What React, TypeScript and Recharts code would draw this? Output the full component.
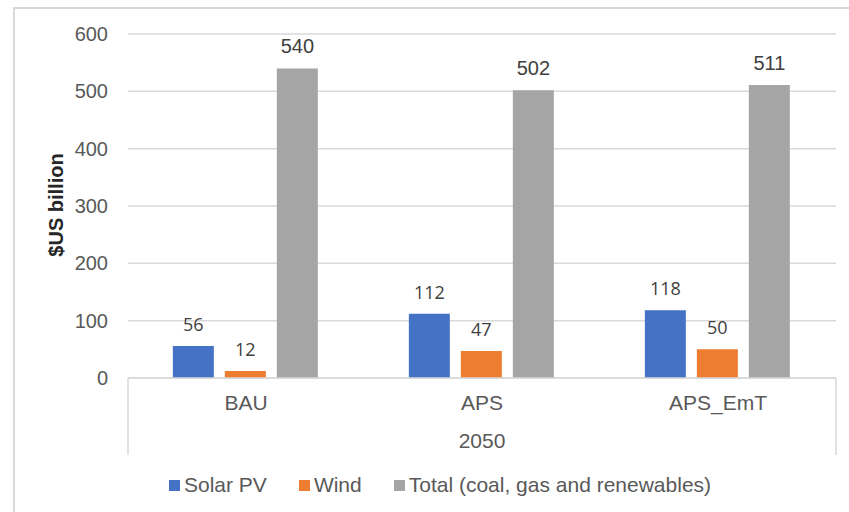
import React from 'react';
import { BarChart, Bar, XAxis, YAxis, CartesianGrid, Legend, LabelList } from 'recharts';

const categories = ['BAU', 'APS', 'APS_EmT'];
const solarPV = [56, 112, 118];
const wind = [12, 47, 50];
const total = [540, 502, 511];
const yTicks = [0, 100, 200, 300, 400, 500, 600];
const outerLabel = '2050';
const seriesNames = ['Solar PV', 'Wind', 'Total (coal, gas and renewables)'];
const colors = ['#4472C4', '#ED7D31', '#A5A5A5'];

const data = categories.map((c, i) => ({
  category: c,
  solar: solarPV[i],
  wind: wind[i],
  total: total[i],
}));

const FONT = '"Liberation Sans", Arial, sans-serif';
const GRID = '#d9d9d9';

const CategoryTick = (props: any) => {
  const { x, y, payload, index, visibleTicksCount } = props;
  const half = payload && typeof payload.offset === 'number' && payload.offset > 0 ? payload.offset : 118;
  const count = visibleTicksCount || categories.length;
  const left = x - half;
  const right = left + 2 * half * count;
  return (
    <g>
      <text x={x} y={y + 32} textAnchor="middle" fill="#595959" fontSize={21} fontFamily={FONT}>
        {payload.value}
      </text>
      {index === 0 && (
        <g>
          <line x1={left} y1={y} x2={left} y2={y + 77} stroke={GRID} strokeWidth={1.5} />
          <line x1={right} y1={y} x2={right} y2={y + 77} stroke={GRID} strokeWidth={1.5} />
          <text x={(left + right) / 2} y={y + 70} textAnchor="middle" fill="#595959" fontSize={21} fontFamily={FONT}>
            {outerLabel}
          </text>
        </g>
      )}
    </g>
  );
};

const YTitle = (props: any) => {
  const vb = props.viewBox || { x: 0, y: 34, width: 128, height: 344 };
  const cx = vb.x + 56;
  const cy = vb.y + vb.height / 2 - 1;
  return (
    <text
      x={cx}
      y={cy}
      transform={`rotate(-90, ${cx}, ${cy})`}
      textAnchor="middle"
      dominantBaseline="central"
      fill="#262626"
      fontSize={20}
      fontWeight="bold"
      fontFamily={FONT}
    >
      $US billion
    </text>
  );
};

const LegendContent = (props: any) => {
  const payload = [...(props.payload || [])].sort(
    (a: any, b: any) => seriesNames.indexOf(a.value) - seriesNames.indexOf(b.value)
  );
  return (
    <div style={{ display: 'flex', alignItems: 'center', paddingLeft: 169, fontFamily: FONT, fontSize: 21, color: '#595959', height: 30 }}>
      {payload.map((p: any, i: number) => (
        <div key={i} style={{ display: 'flex', alignItems: 'center', marginRight: 32 }}>
          <span style={{ display: 'inline-block', width: 11, height: 11, background: p.color, marginRight: 4 }} />
          <span style={{ whiteSpace: 'nowrap' }}>{p.value}</span>
        </div>
      ))}
    </div>
  );
};

export default function App() {
  return (
    <div style={{ position: 'absolute', left: 0, top: 0, width: 849, height: 512, background: '#fff', overflow: 'hidden' }}>
      <div
        style={{
          position: 'absolute',
          left: 13,
          top: 7,
          width: 900,
          height: 600,
          borderTop: `2px solid ${GRID}`,
          borderLeft: `2px solid ${GRID}`,
          boxSizing: 'border-box',
        }}
      />
      <div style={{ position: 'absolute', left: 0, top: 0 }}>
        <BarChart
          width={849}
          height={512}
          data={data}
          margin={{ top: 34, right: 13, left: 0, bottom: 27 }}
          barCategoryGap="19%"
          barGap={11}
        >
          <CartesianGrid vertical={false} stroke={GRID} strokeWidth={1.5} />
          <XAxis
            dataKey="category"
            height={77}
            tickSize={0}
            tickMargin={0}
            axisLine={{ stroke: GRID, strokeWidth: 1.5 }}
            tickLine={false}
            tick={<CategoryTick />}
            interval={0}
          />
          <YAxis
            width={128}
            domain={[0, 600]}
            ticks={yTicks}
            axisLine={false}
            tickLine={false}
            tickSize={0}
            tickMargin={20}
            tick={{ fill: '#595959', fontSize: 20, fontFamily: FONT }}
            label={<YTitle />}
          />
          <Legend
            verticalAlign="bottom"
            height={30}
            content={<LegendContent />}
            wrapperStyle={{ top: 470, bottom: 'auto', left: 0, width: 849 }}
          />
          <Bar dataKey="solar" name={seriesNames[0]} fill={colors[0]} isAnimationActive={false}>
            <LabelList dataKey="solar" position="top" offset={15} fill="#404040" fontSize={18} fontFamily='"Open Sans", sans-serif' />
          </Bar>
          <Bar dataKey="wind" name={seriesNames[1]} fill={colors[1]} isAnimationActive={false}>
            <LabelList dataKey="wind" position="top" offset={15} fill="#404040" fontSize={18} fontFamily='"Open Sans", sans-serif' />
          </Bar>
          <Bar dataKey="total" name={seriesNames[2]} fill={colors[2]} isAnimationActive={false}>
            <LabelList dataKey="total" position="top" offset={15} fill="#404040" fontSize={20} fontFamily={FONT} />
          </Bar>
        </BarChart>
      </div>
    </div>
  );
}
